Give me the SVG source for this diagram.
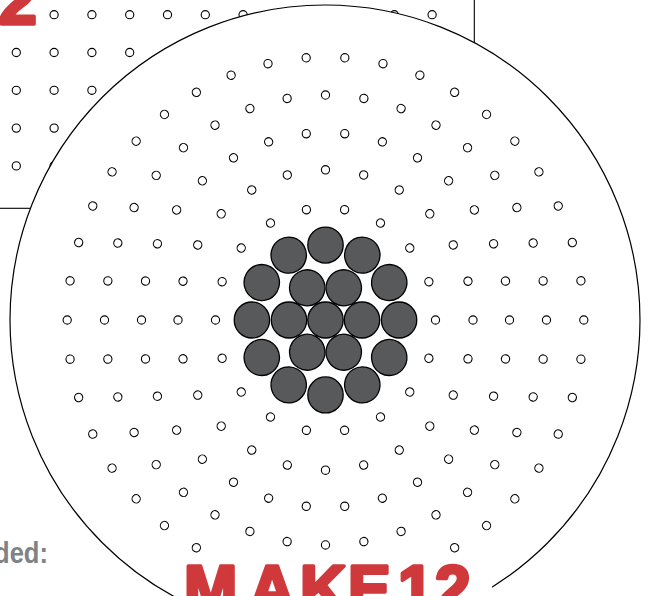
<svg xmlns="http://www.w3.org/2000/svg" xmlns:xlink="http://www.w3.org/1999/xlink" width="650" height="596" viewBox="0 0 650 596">
  <style>
    .hole { fill: #ffffff; stroke: #000000; stroke-width: 1.1; }
    .bead { fill: #58595b; stroke: #000000; stroke-width: 1.3; }
    .line { fill: none; stroke: #000000; stroke-width: 1.1; }
    .red { font-family: "Liberation Sans", Arial, sans-serif; font-weight: bold; fill: #d0393c; stroke: #d0393c; stroke-width: 3.5; stroke-linejoin: round; }
    .grey { font-family: "Liberation Sans", Arial, sans-serif; font-weight: bold; fill: #808285; }
  </style>
  <defs>
    <circle id="h" class="hole" cx="0" cy="0" r="4.1"/>
    <circle id="b" class="bead" cx="0" cy="0" r="17.7"/>
  </defs>

  <rect width="650" height="596" fill="#ffffff"/>

  <g id="back-card">
    <rect class="line" x="-20" y="-40" width="494.3" height="248.3"/>
    <g id="back-grid">
      <use href="#h" x="54.1" y="14.7"/>
      <use href="#h" x="91.9" y="14.7"/>
      <use href="#h" x="129.7" y="14.7"/>
      <use href="#h" x="167.5" y="14.7"/>
      <use href="#h" x="205.3" y="14.7"/>
      <use href="#h" x="243.1" y="14.7"/>
      <use href="#h" x="394.3" y="14.7"/>
      <use href="#h" x="432.1" y="14.7"/>
      <use href="#h" x="16.3" y="52.5"/>
      <use href="#h" x="54.1" y="52.5"/>
      <use href="#h" x="91.9" y="52.5"/>
      <use href="#h" x="129.7" y="52.5"/>
      <use href="#h" x="16.3" y="90.3"/>
      <use href="#h" x="54.1" y="90.3"/>
      <use href="#h" x="91.9" y="90.3"/>
      <use href="#h" x="16.3" y="128.1"/>
      <use href="#h" x="54.1" y="128.1"/>
      <use href="#h" x="16.3" y="165.9"/>
      <use href="#h" x="54.1" y="165.9"/>
    </g>
    <text class="red" x="-1" y="23.5" font-size="68">2</text>
  </g>

  <g id="pegboard">
    <circle cx="325" cy="320" r="315" fill="#ffffff" stroke="#000000" stroke-width="1.2"/>
    <g transform="translate(325.5,320) scale(1,1.018)">
      <g id="ring-18">
        <use href="#h" transform="rotate(10) translate(0,-110)"/>
        <use href="#h" transform="rotate(30) translate(0,-110)"/>
        <use href="#h" transform="rotate(50) translate(0,-110)"/>
        <use href="#h" transform="rotate(70) translate(0,-110)"/>
        <use href="#h" transform="rotate(90) translate(0,-110)"/>
        <use href="#h" transform="rotate(110) translate(0,-110)"/>
        <use href="#h" transform="rotate(130) translate(0,-110)"/>
        <use href="#h" transform="rotate(150) translate(0,-110)"/>
        <use href="#h" transform="rotate(170) translate(0,-110)"/>
        <use href="#h" transform="rotate(190) translate(0,-110)"/>
        <use href="#h" transform="rotate(210) translate(0,-110)"/>
        <use href="#h" transform="rotate(230) translate(0,-110)"/>
        <use href="#h" transform="rotate(250) translate(0,-110)"/>
        <use href="#h" transform="rotate(270) translate(0,-110)"/>
        <use href="#h" transform="rotate(290) translate(0,-110)"/>
        <use href="#h" transform="rotate(310) translate(0,-110)"/>
        <use href="#h" transform="rotate(330) translate(0,-110)"/>
        <use href="#h" transform="rotate(350) translate(0,-110)"/>
      </g>
      <g id="ring-24">
        <use href="#h" transform="rotate(0) translate(0,-147.5)"/>
        <use href="#h" transform="rotate(15) translate(0,-147.5)"/>
        <use href="#h" transform="rotate(30) translate(0,-147.5)"/>
        <use href="#h" transform="rotate(45) translate(0,-147.5)"/>
        <use href="#h" transform="rotate(60) translate(0,-147.5)"/>
        <use href="#h" transform="rotate(75) translate(0,-147.5)"/>
        <use href="#h" transform="rotate(90) translate(0,-147.5)"/>
        <use href="#h" transform="rotate(105) translate(0,-147.5)"/>
        <use href="#h" transform="rotate(120) translate(0,-147.5)"/>
        <use href="#h" transform="rotate(135) translate(0,-147.5)"/>
        <use href="#h" transform="rotate(150) translate(0,-147.5)"/>
        <use href="#h" transform="rotate(165) translate(0,-147.5)"/>
        <use href="#h" transform="rotate(180) translate(0,-147.5)"/>
        <use href="#h" transform="rotate(195) translate(0,-147.5)"/>
        <use href="#h" transform="rotate(210) translate(0,-147.5)"/>
        <use href="#h" transform="rotate(225) translate(0,-147.5)"/>
        <use href="#h" transform="rotate(240) translate(0,-147.5)"/>
        <use href="#h" transform="rotate(255) translate(0,-147.5)"/>
        <use href="#h" transform="rotate(270) translate(0,-147.5)"/>
        <use href="#h" transform="rotate(285) translate(0,-147.5)"/>
        <use href="#h" transform="rotate(300) translate(0,-147.5)"/>
        <use href="#h" transform="rotate(315) translate(0,-147.5)"/>
        <use href="#h" transform="rotate(330) translate(0,-147.5)"/>
        <use href="#h" transform="rotate(345) translate(0,-147.5)"/>
      </g>
      <g id="ring-30">
        <use href="#h" transform="rotate(6) translate(0,-184)"/>
        <use href="#h" transform="rotate(18) translate(0,-184)"/>
        <use href="#h" transform="rotate(30) translate(0,-184)"/>
        <use href="#h" transform="rotate(42) translate(0,-184)"/>
        <use href="#h" transform="rotate(54) translate(0,-184)"/>
        <use href="#h" transform="rotate(66) translate(0,-184)"/>
        <use href="#h" transform="rotate(78) translate(0,-184)"/>
        <use href="#h" transform="rotate(90) translate(0,-184)"/>
        <use href="#h" transform="rotate(102) translate(0,-184)"/>
        <use href="#h" transform="rotate(114) translate(0,-184)"/>
        <use href="#h" transform="rotate(126) translate(0,-184)"/>
        <use href="#h" transform="rotate(138) translate(0,-184)"/>
        <use href="#h" transform="rotate(150) translate(0,-184)"/>
        <use href="#h" transform="rotate(162) translate(0,-184)"/>
        <use href="#h" transform="rotate(174) translate(0,-184)"/>
        <use href="#h" transform="rotate(186) translate(0,-184)"/>
        <use href="#h" transform="rotate(198) translate(0,-184)"/>
        <use href="#h" transform="rotate(210) translate(0,-184)"/>
        <use href="#h" transform="rotate(222) translate(0,-184)"/>
        <use href="#h" transform="rotate(234) translate(0,-184)"/>
        <use href="#h" transform="rotate(246) translate(0,-184)"/>
        <use href="#h" transform="rotate(258) translate(0,-184)"/>
        <use href="#h" transform="rotate(270) translate(0,-184)"/>
        <use href="#h" transform="rotate(282) translate(0,-184)"/>
        <use href="#h" transform="rotate(294) translate(0,-184)"/>
        <use href="#h" transform="rotate(306) translate(0,-184)"/>
        <use href="#h" transform="rotate(318) translate(0,-184)"/>
        <use href="#h" transform="rotate(330) translate(0,-184)"/>
        <use href="#h" transform="rotate(342) translate(0,-184)"/>
        <use href="#h" transform="rotate(354) translate(0,-184)"/>
      </g>
      <g id="ring-36">
        <use href="#h" transform="rotate(0) translate(0,-221)"/>
        <use href="#h" transform="rotate(10) translate(0,-221)"/>
        <use href="#h" transform="rotate(20) translate(0,-221)"/>
        <use href="#h" transform="rotate(30) translate(0,-221)"/>
        <use href="#h" transform="rotate(40) translate(0,-221)"/>
        <use href="#h" transform="rotate(50) translate(0,-221)"/>
        <use href="#h" transform="rotate(60) translate(0,-221)"/>
        <use href="#h" transform="rotate(70) translate(0,-221)"/>
        <use href="#h" transform="rotate(80) translate(0,-221)"/>
        <use href="#h" transform="rotate(90) translate(0,-221)"/>
        <use href="#h" transform="rotate(100) translate(0,-221)"/>
        <use href="#h" transform="rotate(110) translate(0,-221)"/>
        <use href="#h" transform="rotate(120) translate(0,-221)"/>
        <use href="#h" transform="rotate(130) translate(0,-221)"/>
        <use href="#h" transform="rotate(140) translate(0,-221)"/>
        <use href="#h" transform="rotate(150) translate(0,-221)"/>
        <use href="#h" transform="rotate(160) translate(0,-221)"/>
        <use href="#h" transform="rotate(170) translate(0,-221)"/>
        <use href="#h" transform="rotate(180) translate(0,-221)"/>
        <use href="#h" transform="rotate(190) translate(0,-221)"/>
        <use href="#h" transform="rotate(200) translate(0,-221)"/>
        <use href="#h" transform="rotate(210) translate(0,-221)"/>
        <use href="#h" transform="rotate(220) translate(0,-221)"/>
        <use href="#h" transform="rotate(230) translate(0,-221)"/>
        <use href="#h" transform="rotate(240) translate(0,-221)"/>
        <use href="#h" transform="rotate(250) translate(0,-221)"/>
        <use href="#h" transform="rotate(260) translate(0,-221)"/>
        <use href="#h" transform="rotate(270) translate(0,-221)"/>
        <use href="#h" transform="rotate(280) translate(0,-221)"/>
        <use href="#h" transform="rotate(290) translate(0,-221)"/>
        <use href="#h" transform="rotate(300) translate(0,-221)"/>
        <use href="#h" transform="rotate(310) translate(0,-221)"/>
        <use href="#h" transform="rotate(320) translate(0,-221)"/>
        <use href="#h" transform="rotate(330) translate(0,-221)"/>
        <use href="#h" transform="rotate(340) translate(0,-221)"/>
        <use href="#h" transform="rotate(350) translate(0,-221)"/>
      </g>
      <g id="ring-42">
        <use href="#h" transform="rotate(4.286) translate(0,-258.3)"/>
        <use href="#h" transform="rotate(12.857) translate(0,-258.3)"/>
        <use href="#h" transform="rotate(21.429) translate(0,-258.3)"/>
        <use href="#h" transform="rotate(30) translate(0,-258.3)"/>
        <use href="#h" transform="rotate(38.571) translate(0,-258.3)"/>
        <use href="#h" transform="rotate(47.143) translate(0,-258.3)"/>
        <use href="#h" transform="rotate(55.714) translate(0,-258.3)"/>
        <use href="#h" transform="rotate(64.286) translate(0,-258.3)"/>
        <use href="#h" transform="rotate(72.857) translate(0,-258.3)"/>
        <use href="#h" transform="rotate(81.429) translate(0,-258.3)"/>
        <use href="#h" transform="rotate(90) translate(0,-258.3)"/>
        <use href="#h" transform="rotate(98.571) translate(0,-258.3)"/>
        <use href="#h" transform="rotate(107.143) translate(0,-258.3)"/>
        <use href="#h" transform="rotate(115.714) translate(0,-258.3)"/>
        <use href="#h" transform="rotate(124.286) translate(0,-258.3)"/>
        <use href="#h" transform="rotate(132.857) translate(0,-258.3)"/>
        <use href="#h" transform="rotate(141.429) translate(0,-258.3)"/>
        <use href="#h" transform="rotate(150) translate(0,-258.3)"/>
        <use href="#h" transform="rotate(210) translate(0,-258.3)"/>
        <use href="#h" transform="rotate(218.571) translate(0,-258.3)"/>
        <use href="#h" transform="rotate(227.143) translate(0,-258.3)"/>
        <use href="#h" transform="rotate(235.714) translate(0,-258.3)"/>
        <use href="#h" transform="rotate(244.286) translate(0,-258.3)"/>
        <use href="#h" transform="rotate(252.857) translate(0,-258.3)"/>
        <use href="#h" transform="rotate(261.429) translate(0,-258.3)"/>
        <use href="#h" transform="rotate(270) translate(0,-258.3)"/>
        <use href="#h" transform="rotate(278.571) translate(0,-258.3)"/>
        <use href="#h" transform="rotate(287.143) translate(0,-258.3)"/>
        <use href="#h" transform="rotate(295.714) translate(0,-258.3)"/>
        <use href="#h" transform="rotate(304.286) translate(0,-258.3)"/>
        <use href="#h" transform="rotate(312.857) translate(0,-258.3)"/>
        <use href="#h" transform="rotate(321.429) translate(0,-258.3)"/>
        <use href="#h" transform="rotate(330) translate(0,-258.3)"/>
        <use href="#h" transform="rotate(338.571) translate(0,-258.3)"/>
        <use href="#h" transform="rotate(347.143) translate(0,-258.3)"/>
        <use href="#h" transform="rotate(355.714) translate(0,-258.3)"/>
      </g>
      <g id="beads">
        <use href="#b"/>
        <use href="#b" transform="rotate(30) translate(0,-36.5)"/>
        <use href="#b" transform="rotate(90) translate(0,-36.5)"/>
        <use href="#b" transform="rotate(150) translate(0,-36.5)"/>
        <use href="#b" transform="rotate(210) translate(0,-36.5)"/>
        <use href="#b" transform="rotate(270) translate(0,-36.5)"/>
        <use href="#b" transform="rotate(330) translate(0,-36.5)"/>
        <use href="#b" transform="rotate(0) translate(0,-73.6)"/>
        <use href="#b" transform="rotate(30) translate(0,-73.6)"/>
        <use href="#b" transform="rotate(60) translate(0,-73.6)"/>
        <use href="#b" transform="rotate(90) translate(0,-73.6)"/>
        <use href="#b" transform="rotate(120) translate(0,-73.6)"/>
        <use href="#b" transform="rotate(150) translate(0,-73.6)"/>
        <use href="#b" transform="rotate(180) translate(0,-73.6)"/>
        <use href="#b" transform="rotate(210) translate(0,-73.6)"/>
        <use href="#b" transform="rotate(240) translate(0,-73.6)"/>
        <use href="#b" transform="rotate(270) translate(0,-73.6)"/>
        <use href="#b" transform="rotate(300) translate(0,-73.6)"/>
        <use href="#b" transform="rotate(330) translate(0,-73.6)"/>
      </g>
    </g>
  </g>

  <g id="title">
    <rect x="176" y="556" width="316" height="45" fill="#ffffff"/>
    <text class="red" y="611" font-size="64"><tspan x="184">M</tspan><tspan x="249">A</tspan><tspan x="300">K</tspan><tspan x="348">E</tspan><tspan x="398">1</tspan><tspan x="435">2</tspan></text>
  </g>

  <text class="grey" x="-6" y="563" font-size="30" textLength="54" lengthAdjust="spacingAndGlyphs">ded:</text>
</svg>
